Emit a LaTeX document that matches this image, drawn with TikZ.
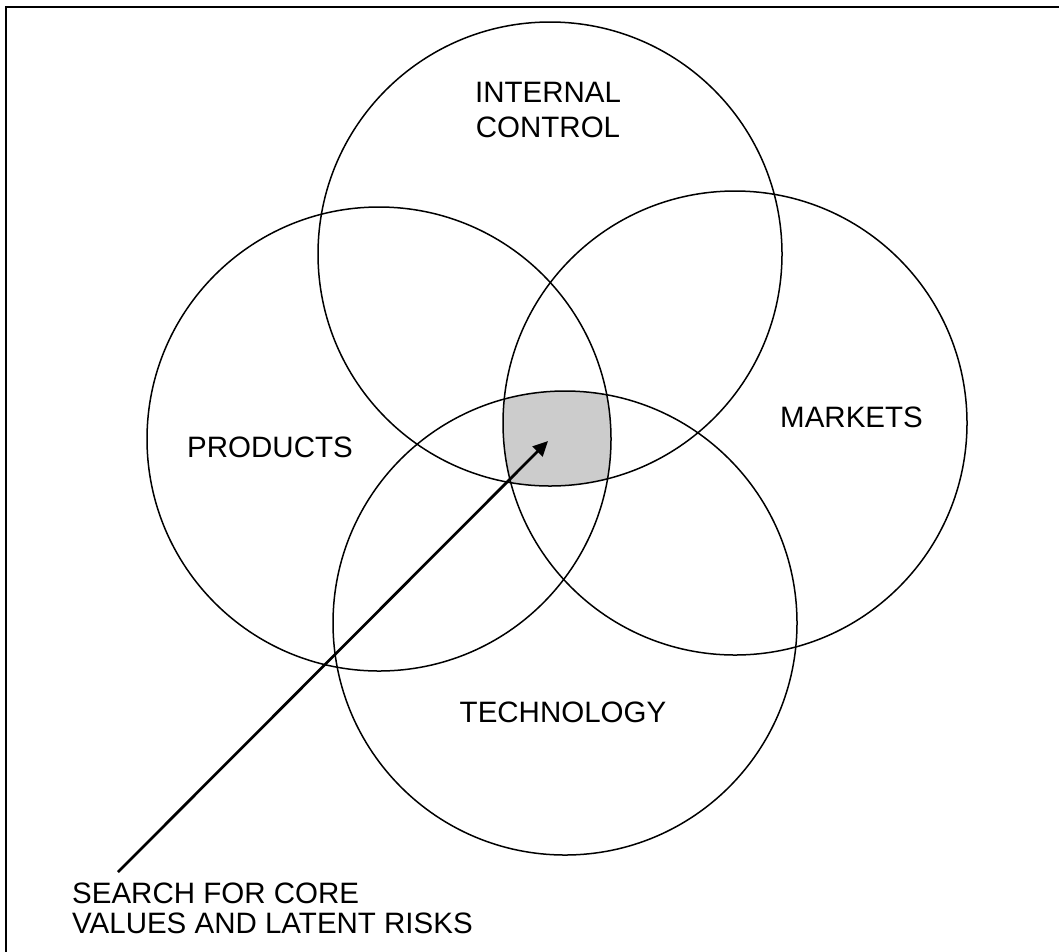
\documentclass[tikz,border=0pt]{standalone}
\usepackage{fontspec}
\setmainfont{Liberation Sans}
\usetikzlibrary{arrows.meta}
\begin{document}
\begin{tikzpicture}[x=1pt,y=-1pt,
  venn/.style={draw=black,line width=1.5pt},
  lbl/.style={inner sep=0pt,font=\fontsize{29.5}{34.5}\selectfont},
  pointer/.style={line width=2.7pt,-{Triangle[length=15pt,width=14pt]}},
  frame/.style={line width=1.8pt}]
\useasboundingbox (0,0) rectangle (1059,951);
% frame (only top and left edges fall inside the picture)
\draw[frame] (1070,7) -- (6,7) -- (6,960);
% circle centres
\coordinate (cI) at (550,254);
\coordinate (cP) at (379,439);
\coordinate (cM) at (735,423);
\coordinate (cT) at (565,623);
% shaded common core
\begin{scope}
  \clip (cI) circle[radius=232pt];
  \clip (cP) circle[radius=232pt];
  \clip (cM) circle[radius=232pt];
  \fill[gray!40] (cT) circle[radius=232pt];
\end{scope}
\draw[venn] (cI) circle[radius=232pt];
\draw[venn] (cP) circle[radius=232pt];
\draw[venn] (cM) circle[radius=232pt];
\draw[venn] (cT) circle[radius=232pt];
% labels
\node[lbl,align=center] (internal) at (548,110) {INTERNAL\\CONTROL};
\node[lbl,anchor=base] (products) at (270,457) {PRODUCTS};
\node[lbl,anchor=base] (markets) at (851.5,427) {MARKETS};
\node[lbl,anchor=base] (technology) at (563,722) {TECHNOLOGY};
\node[lbl,align=left,anchor=base west,font=\fontsize{29.5}{29.5}\selectfont] (search) at (72,933) {SEARCH FOR CORE\\VALUES AND LATENT RISKS};
% pointer
\coordinate (tail) at (118,872);
\coordinate (core) at (548,441);
\draw[pointer] (tail) -- (core);
\end{tikzpicture}
\end{document}
